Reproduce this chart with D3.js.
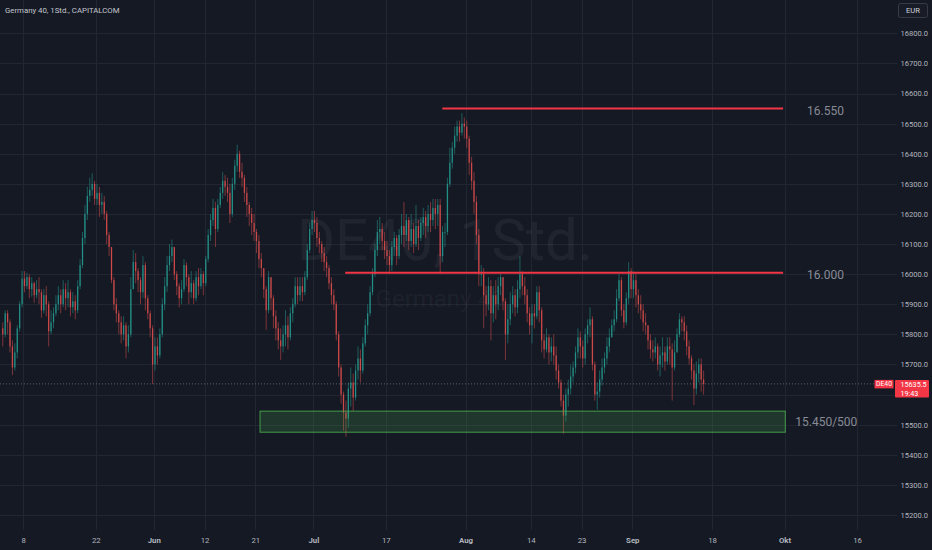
<!DOCTYPE html>
<html>
<head>
<meta charset="utf-8">
<script src="https://cdn.jsdelivr.net/npm/d3@7"></script>
<style>
  html, body { margin: 0; padding: 0; background: #151924; }
  svg { display: block; }
  text { font-family: Roboto, "Noto Sans", sans-serif; }
</style>
</head>
<body>
<div id="chart"></div>
<script>
// DE40 hourly (3 bars per trading day, from 3 May 2023)
var firstOpen = 15820;
var closes = [
  15800,15870,15840, 15760,15690,15740, 15820,15900,15985, 15960,15990,15950, 15970,15930,15950,
  15940,15880,15930, 15900,15810,15840, 15870,15900,15930, 15900,15950,15920, 15940,15890,15910,
  15880,15960,16030, 16120,16200,16260, 16280,16300,16250, 16270,16230,16240, 16200,16130,16090,
  15980,15900,15870, 15840,15800,15830, 15760,15800,15950, 16040,16010,15980, 15940,16030,15920,
  15870,15820,15700, 15760,15730,15800, 15900,15960,16030, 16060,16090,16000, 15960,15920,15950,
  16030,15990,15940, 15970,15920,15990, 15960,16000,15970, 16050,16130,16180, 16220,16150,16230,
  16270,16310,16290, 16270,16200,16300, 16360,16400,16340, 16320,16270,16230, 16200,16170,16140,
  16110,16050,16020, 15950,15880,15990, 15920,15860,15820, 15780,15760,15800, 15830,15790,15870,
  15900,15960,15930, 15960,15940,15990, 16080,16150,16180, 16170,16120,16100, 16070,16040,16020,
  15970,15930,15900, 15800,15690,15600, 15540,15520,15620, 15640,15590,15680, 15720,15680,15770,
  15830,15870,15940, 16000,16080,16140, 16150,16110,16080, 16060,16030,16090, 16120,16060,16130,
  16160,16130,16180, 16110,16150,16100, 16160,16120,16170, 16190,16160,16200, 16180,16220,16200,
  16230,16060,16140, 16140,16300,16370, 16420,16460,16490, 16470,16500,16490, 16450,16370,16310,
  16240,16130,16000, 16000,15930,15900, 15960,15870,15930, 15900,15960,15990, 15910,15800,15850,
  15900,15930,15890, 15950,16000,15960, 15930,15870,15830, 15870,15860,15940, 15880,15780,15750,
  15790,15740,15760, 15730,15680,15640, 15580,15530,15600, 15620,15660,15690, 15740,15790,15760,
  15720,15800,15830, 15850,15700,15600, 15610,15650,15690, 15720,15760,15790, 15830,15850,15920,
  15980,15880,15840, 15920,16010,15950, 15980,15930,15900, 15880,15840,15830, 15780,15750,15740,
  15760,15700,15730, 15740,15710,15760, 15750,15690,15740, 15800,15850,15840, 15810,15760,15720,
  15680,15620,15670, 15700,15650,15635.5
];
var highs = [
  15840,15880,15880, 15850,15780,15770, 15830,15910,16010, 16010,16005,16000, 15990,15975,15980,
  15990,15950,15950, 15960,15910,15880, 15890,15930,15960, 15950,15980,15970, 15980,15950,15940,
  15930,15980,16050, 16140,16230,16290, 16320,16335,16310, 16300,16290,16270, 16260,16210,16140,
  16090,15990,15920, 15880,15860,15860, 15840,15830,15990, 16080,16070,16020, 15990,16060,16040,
  15930,15880,15830, 15790,15790,15820, 15920,15990,16060, 16100,16115,16090, 16010,15970,15980,
  16050,16040,16000, 16010,15980,16010, 16020,16020,16010, 16060,16150,16200, 16250,16240,16250,
  16290,16340,16330, 16320,16300,16320, 16380,16430,16410, 16370,16330,16290, 16240,16220,16200,
  16150,16130,16070, 16020,15960,16010, 15990,15930,15880, 15840,15820,15830, 15880,15860,15890,
  15920,15990,15990, 15990,15990,16010, 16100,16170,16210, 16210,16190,16140, 16110,16090,16060,
  16030,15990,15950, 15910,15810,15700, 15610,15580,15640, 15690,15670,15700, 15760,15750,15790,
  15850,15900,15960, 16020,16100,16180, 16190,16170,16140, 16110,16080,16110, 16140,16130,16150,
  16200,16240,16200, 16190,16200,16170, 16230,16180,16190, 16220,16210,16230, 16240,16250,16250,
  16250,16250,16160, 16170,16320,16420, 16440,16490,16510, 16510,16535,16520, 16510,16460,16390,
  16340,16260,16150, 16030,16020,15960, 15990,15980,15960, 15980,15990,16000, 15990,15920,15900,
  15940,15960,15950, 15980,16060,16010, 15990,15950,15890, 15900,15900,15960, 15960,15890,15800,
  15820,15800,15790, 15800,15760,15700, 15650,15600,15620, 15650,15700,15710, 15760,15820,15810,
  15780,15820,15850, 15890,15860,15710, 15640,15680,15720, 15740,15790,15820, 15850,15880,15950,
  16000,15990,15900, 15940,16040,16020, 16010,16000,15950, 15930,15900,15870, 15830,15800,15780,
  15790,15770,15760, 15790,15760,15790, 15790,15770,15780, 15820,15870,15860, 15860,15830,15780,
  15730,15700,15710, 15720,15720,15680
];
var lows = [
  15760,15790,15800, 15740,15665,15680, 15720,15810,15890, 15940,15950,15920, 15925,15905,15920,
  15900,15855,15870, 15860,15760,15800, 15820,15860,15880, 15870,15890,15880, 15890,15860,15870,
  15850,15870,15950, 16020,16100,16180, 16240,16260,16230, 16230,16190,16200, 16180,16100,16060,
  15970,15880,15840, 15800,15770,15780, 15720,15740,15790, 15960,15970,15940, 15900,15920,15880,
  15850,15790,15635, 15680,15700,15720, 15790,15880,15940, 16010,16040,15980, 15930,15890,15900,
  15940,15960,15900, 15920,15900,15910, 15930,15950,15930, 15960,16040,16110, 16160,16090,16140,
  16220,16250,16260, 16240,16170,16190, 16280,16340,16320, 16290,16240,16190, 16160,16130,16110,
  16070,16020,15990, 15920,15815,15870, 15880,15820,15780, 15750,15715,15740, 15760,15750,15780,
  15840,15890,15900, 15910,15910,15930, 15980,16070,16130, 16140,16090,16070, 16040,16010,15990,
  15950,15900,15880, 15780,15660,15570, 15480,15460,15490, 15560,15545,15580, 15650,15640,15670,
  15760,15800,15860, 15930,15990,16060, 16100,16080,16050, 16030,16000,16010, 16060,16030,16050,
  16100,16090,16110, 16080,16090,16070, 16090,16080,16110, 16130,16120,16140, 16140,16160,16150,
  16160,16000,16040, 16090,16130,16290, 16350,16400,16440, 16440,16460,16450, 16420,16330,16280,
  16200,16100,15960, 15960,15820,15860, 15880,15780,15840, 15850,15880,15930, 15880,15715,15770,
  15830,15870,15860, 15870,15920,15930, 15900,15840,15800, 15770,15820,15850, 15840,15740,15720,
  15740,15700,15710, 15700,15650,15620, 15560,15470,15510, 15560,15600,15640, 15670,15720,15720,
  15690,15700,15770, 15790,15680,15580, 15550,15590,15630, 15670,15700,15740, 15790,15810,15840,
  15910,15860,15820, 15830,15900,15920, 15920,15890,15870, 15850,15810,15800, 15750,15720,15710,
  15720,15680,15660, 15690,15680,15700, 15700,15580,15680, 15740,15790,15810, 15780,15730,15700,
  15650,15565,15600, 15640,15610,15600
];
var barsPerDay = 3;

// x axis labels
var tickDates = ["2023-05-08","2023-05-22","2023-06-01","2023-06-12","2023-06-21","2023-07-03","2023-07-17",
                 "2023-08-01","2023-08-14","2023-08-23","2023-09-01","2023-09-18","2023-10-02","2023-10-16"];
var tickLabels = ["8","22","Jun","12","21","Jul","17","Aug","14","23","Sep","18","Okt","16"];
var priceTicks = d3.range(15200, 16801, 100);

// drawings on the chart (trading-day index, price)
var levelPrices = [16550, 16005];
var levelFromDay = [60.8, 47.4];
var levelToDay = [107.8, 107.8];
var levelTexts = ["16.550", "16.000"];
var zonePrices = [15475, 15545];
var zoneFromDay = 35.65, zoneToDay = 108.1;
var zoneText = "15.450/500";

var W = 932, H = 550;
var paneRight = 897, paneBottom = 530;

// trading calendar (weekdays)
var tradingDays = [];
for (var t = new Date(Date.UTC(2023, 4, 3)); t <= new Date(Date.UTC(2023, 9, 31)); t.setUTCDate(t.getUTCDate() + 1)) {
  var wd = t.getUTCDay();
  if (wd > 0 && wd < 6) tradingDays.push(t.toISOString().slice(0, 10));
}
var dayIndex = function (s) { return tradingDays.indexOf(s) }

var x = d3.scaleLinear().domain([0, 100]).range([1.55, 726.55]);
var y = d3.scaleLinear().domain([15200, 16800]).range([515, 33.3]);

var candles = closes.map(function (c, i) {
  var o = i === 0 ? firstOpen : closes[i - 1];
  return {
    t: Math.floor(i / barsPerDay) + ((i % barsPerDay) + 0.5) / barsPerDay,
    o: o, c: c,
    h: Math.max(highs[i], o, c),
    l: Math.min(lows[i], o, c)
  };
});
var last = candles[candles.length - 1];
var ly = y(last.c);

var svg = d3.select("#chart").append("svg").attr("width", W).attr("height", H);
svg.append("rect").attr("width", W).attr("height", H).attr("fill", "#151924");

var pane = svg.append("g");
pane.append("clipPath").attr("id", "clip").append("rect").attr("width", paneRight).attr("height", paneBottom);

// grid
pane.append("g").selectAll("line").data(priceTicks).enter().append("line")
  .attr("x1", 0).attr("x2", paneRight)
  .attr("y1", d => Math.round(y(d)) + 0.5).attr("y2", d => Math.round(y(d)) + 0.5)
  .attr("stroke", "#222632").attr("stroke-width", 1);
pane.append("g").selectAll("line").data(tickDates).enter().append("line")
  .attr("x1", d => Math.round(x(dayIndex(d))) + 0.5).attr("x2", d => Math.round(x(dayIndex(d))) + 0.5)
  .attr("y1", 0).attr("y2", paneBottom)
  .attr("stroke", "#222632").attr("stroke-width", 1);

// watermark
pane.append("text").attr("x", 445).attr("y", 260).attr("text-anchor", "middle")
  .attr("font-size", 58).attr("fill", "rgba(255,255,255,0.05)").text("DE40, 1Std.");
pane.append("text").attr("x", 440).attr("y", 307).attr("text-anchor", "middle")
  .attr("font-size", 24).attr("fill", "rgba(255,255,255,0.05)").text("Germany 40");

// candles
var bw = 1.3;
var upCol = "#26a69a", downCol = "#ef5350";
var cg = pane.append("g").attr("clip-path", "url(#clip)");
var bars = cg.selectAll("g").data(candles).enter().append("g")
  .attr("fill", d => d.c >= d.o ? upCol : downCol)
  .attr("stroke", d => d.c >= d.o ? upCol : downCol);
bars.append("line")
  .attr("x1", d => x(d.t)).attr("x2", d => x(d.t))
  .attr("y1", d => y(d.h)).attr("y2", d => y(d.l))
  .attr("stroke-width", 0.8).attr("stroke-opacity", 0.6);
bars.append("rect")
  .attr("x", d => x(d.t) - bw / 2).attr("width", bw)
  .attr("y", d => y(Math.max(d.o, d.c)))
  .attr("height", d => Math.max(0.8, Math.abs(y(d.o) - y(d.c))))
  .attr("stroke", "none").attr("fill-opacity", 0.72);

// support zone
pane.append("rect")
  .attr("x", x(zoneFromDay)).attr("width", x(zoneToDay) - x(zoneFromDay))
  .attr("y", y(zonePrices[1])).attr("height", y(zonePrices[0]) - y(zonePrices[1]))
  .attr("fill", "rgba(76,175,80,0.2)").attr("stroke", "rgba(76,175,80,0.85)").attr("stroke-width", 1);
pane.append("text")
  .attr("x", x(zoneToDay) + 10).attr("y", y((zonePrices[0] + zonePrices[1]) / 2))
  .attr("dy", "0.35em").attr("font-size", 12).attr("fill", "#878b96").text(zoneText);

// horizontal levels
levelPrices.forEach(function (p, i) {
  pane.append("line")
    .attr("x1", x(levelFromDay[i])).attr("x2", x(levelToDay[i]))
    .attr("y1", y(p)).attr("y2", y(p))
    .attr("stroke", "#f23645").attr("stroke-width", 2);
  pane.append("text")
    .attr("x", x(levelToDay[i]) + 24).attr("y", y(p) + 2)
    .attr("dy", "0.35em").attr("font-size", 12).attr("fill", "#878b96").text(levelTexts[i]);
});

// last price line
pane.append("line")
  .attr("x1", 0).attr("x2", 874).attr("y1", ly).attr("y2", ly)
  .attr("stroke", "#a0a3ad").attr("stroke-opacity", 0.5).attr("stroke-dasharray", "1,2");

// title
svg.append("text").attr("x", 5).attr("y", 10).attr("dy", "0.35em")
  .attr("font-size", 7.8).attr("fill", "#c3c6ce").text("Germany 40, 1Std., CAPITALCOM");

// price axis (labels hidden behind the last price tag are left out, like TradingView does)
var axisTicks = priceTicks.filter(p => y(p) < ly - 10 || y(p) > ly + 22);
var yAxis = d3.axisRight(y).tickValues(axisTicks).tickFormat(d3.format(".1f")).tickSize(0).tickPadding(0);
var ya = svg.append("g").attr("transform", "translate(900.5,0)").call(yAxis);
ya.select(".domain").remove();
ya.selectAll("text").attr("font-size", 7.6).attr("fill", "#b2b5be")
  .style("font-family", "Roboto, 'Noto Sans', sans-serif");

// time axis
var xAxis = d3.axisBottom(x).tickValues(tickDates.map(dayIndex)).tickFormat((d, i) => tickLabels[i]).tickSize(0).tickPadding(0);
var xa = svg.append("g").attr("transform", "translate(0,537)").call(xAxis);
xa.select(".domain").remove();
xa.selectAll("text").attr("font-size", 7.8).attr("fill", "#b2b5be")
  .attr("font-weight", (d, i) => isNaN(+tickLabels[i]) ? "bold" : "normal")
  .style("font-family", "Roboto, 'Noto Sans', sans-serif");

// currency button
svg.append("rect").attr("x", 898.5).attr("y", 3.5).attr("width", 29).attr("height", 14).attr("rx", 2)
  .attr("fill", "#181c27").attr("stroke", "#363a45");
svg.append("text").attr("x", 913).attr("y", 10.5).attr("dy", "0.35em").attr("text-anchor", "middle")
  .attr("font-size", 7.6).attr("fill", "#d1d4dc").text("EUR");

// last price labels
svg.append("rect").attr("x", 874.5).attr("y", ly - 4).attr("width", 19).attr("height", 8.5).attr("fill", "#f23645");
svg.append("text").attr("x", 884).attr("y", ly).attr("dy", "0.35em").attr("text-anchor", "middle")
  .attr("font-size", 6.8).attr("fill", "#ffffff").text("DE40");
svg.append("rect").attr("x", 895).attr("y", ly - 4).attr("width", 34).attr("height", 17.5).attr("rx", 1).attr("fill", "#f23645");
svg.append("text").attr("x", 900.5).attr("y", ly + 0.2).attr("dy", "0.35em")
  .attr("font-size", 7.2).attr("fill", "#ffffff").text(d3.format(".1f")(last.c));
svg.append("text").attr("x", 900.5).attr("y", ly + 9.3).attr("dy", "0.35em")
  .attr("font-size", 7.2).attr("fill", "#ffffff").text("19:43");
</script>
</body>
</html>
